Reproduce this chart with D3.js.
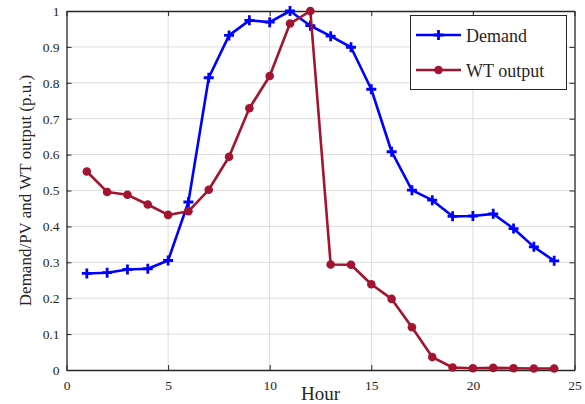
<!DOCTYPE html>
<html>
<head>
<meta charset="utf-8">
<script src="https://cdn.jsdelivr.net/npm/d3@7.9.0/dist/d3.min.js"></script>
<style>
  body { margin: 0; background: #fff; }
  text { font-family: "Liberation Serif", "Times New Roman", serif; fill: #262626; }
</style>
</head>
<body>
<svg id="chart" width="585" height="404"></svg>
<script>
const hours = d3.range(1, 25);
const demand = [0.269, 0.271, 0.280, 0.282, 0.305, 0.468, 0.814, 0.932, 0.974, 0.969, 1.0, 0.959,
  0.930, 0.899, 0.782, 0.608, 0.501, 0.473, 0.428, 0.429, 0.435, 0.394, 0.343, 0.304];
const wtOutput = [0.553, 0.496, 0.488, 0.461, 0.432, 0.442, 0.502, 0.594, 0.729, 0.819, 0.965, 1.0,
  0.294, 0.293, 0.239, 0.198, 0.119, 0.036, 0.007, 0.005, 0.006, 0.005, 0.004, 0.004];
const xTicks = [0, 5, 10, 15, 20, 25];
const yTicks = d3.range(0, 11).map(d => d / 10);

const svg = d3.select('#chart');
const margin = { left: 66.5, right: 585 - 574.5, top: 11, bottom: 404 - 370 };
const width = 585 - margin.left - margin.right;
const height = 404 - margin.top - margin.bottom;

const x = d3.scaleLinear().domain([0, 25]).range([margin.left, margin.left + width]);
const y = d3.scaleLinear().domain([0, 1]).range([margin.top + height, margin.top]);

// grid
const grid = svg.append('g').attr('stroke', '#dcdcdc').attr('stroke-width', 1);
xTicks.slice(1, -1).forEach(t => {
  grid.append('line').attr('x1', x(t)).attr('x2', x(t)).attr('y1', y(0)).attr('y2', y(1));
});
yTicks.slice(1, -1).forEach(t => {
  grid.append('line').attr('x1', x(0)).attr('x2', x(25)).attr('y1', y(t)).attr('y2', y(t));
});

// axes
const fmt = d => d === 0 || d === 1 ? String(d) : d3.format('.1f')(d);
const xAxis = svg.append('g').attr('transform', `translate(0,${y(0)})`)
  .call(d3.axisBottom(x).tickValues(xTicks).tickSizeInner(-5).tickSizeOuter(0).tickPadding(10));
const yAxis = svg.append('g').attr('transform', `translate(${x(0)},0)`)
  .call(d3.axisLeft(y).tickValues(yTicks).tickFormat(fmt).tickSizeInner(-5).tickSizeOuter(0).tickPadding(7));
svg.append('g').attr('transform', `translate(0,${y(1)})`)
  .call(d3.axisTop(x).tickValues(xTicks).tickSizeInner(-5).tickSizeOuter(0).tickFormat(''));
svg.append('g').attr('transform', `translate(${x(25)},0)`)
  .call(d3.axisRight(y).tickValues(yTicks).tickSizeInner(-5).tickSizeOuter(0).tickFormat(''));

svg.selectAll('.domain').attr('stroke', '#262626').attr('stroke-width', 1.3);
svg.selectAll('.tick line').attr('stroke', '#262626');
svg.selectAll('.tick text').style('font-size', '13.5px').attr('fill', '#262626');
xAxis.selectAll('.tick text').attr('dy', '0.71em');

// labels
svg.append('text').attr('x', x(12.5)).attr('y', 400).attr('text-anchor', 'middle')
  .style('font-size', '19px').text('Hour');
svg.append('text').attr('transform', `translate(31,${y(0.5)}) rotate(-90)`)
  .attr('text-anchor', 'middle').style('font-size', '17px').text('Demand/PV and WT output (p.u.)');

// series
const line = d3.line().x((d, i) => x(hours[i])).y(d => y(d));
const blue = '#0000ff';
const red = '#a2142f';

svg.append('path').datum(demand).attr('d', line).attr('fill', 'none')
  .attr('stroke', blue).attr('stroke-width', 2.6).attr('stroke-linejoin', 'round');
function drawPlus(g, cx, cy, s) {
  g.append('path').attr('d', `M${cx - s},${cy}H${cx + s}M${cx},${cy - s}V${cy + s}`)
    .attr('stroke', blue).attr('stroke-width', 2.8);
}
const demandPts = svg.append('g');
demand.forEach((d, i) => drawPlus(demandPts, x(hours[i]), y(d), 5));

svg.append('path').datum(wtOutput).attr('d', line).attr('fill', 'none')
  .attr('stroke', red).attr('stroke-width', 2.6).attr('stroke-linejoin', 'round');
svg.append('g').selectAll('circle').data(wtOutput).join('circle')
  .attr('cx', (d, i) => x(hours[i])).attr('cy', d => y(d)).attr('r', 4.3)
  .attr('fill', red);

// legend
const legend = svg.append('g');
legend.append('rect').attr('x', 410.5).attr('y', 15.5).attr('width', 156).attr('height', 74)
  .attr('fill', '#fff').attr('stroke', '#262626').attr('stroke-width', 1);
legend.append('line').attr('x1', 416).attr('x2', 461).attr('y1', 35).attr('y2', 35)
  .attr('stroke', blue).attr('stroke-width', 2.6);
drawPlus(legend, 438.5, 35, 5);
legend.append('text').attr('x', 466).attr('y', 41.5).style('font-size', '18px').attr('fill', '#000').text('Demand');
legend.append('line').attr('x1', 416).attr('x2', 461).attr('y1', 70).attr('y2', 70)
  .attr('stroke', red).attr('stroke-width', 2.6);
legend.append('circle').attr('cx', 438.5).attr('cy', 70).attr('r', 4.3).attr('fill', red);
legend.append('text').attr('x', 466).attr('y', 76.5).style('font-size', '18px').attr('fill', '#000').text('WT output');
</script>
</body>
</html>
